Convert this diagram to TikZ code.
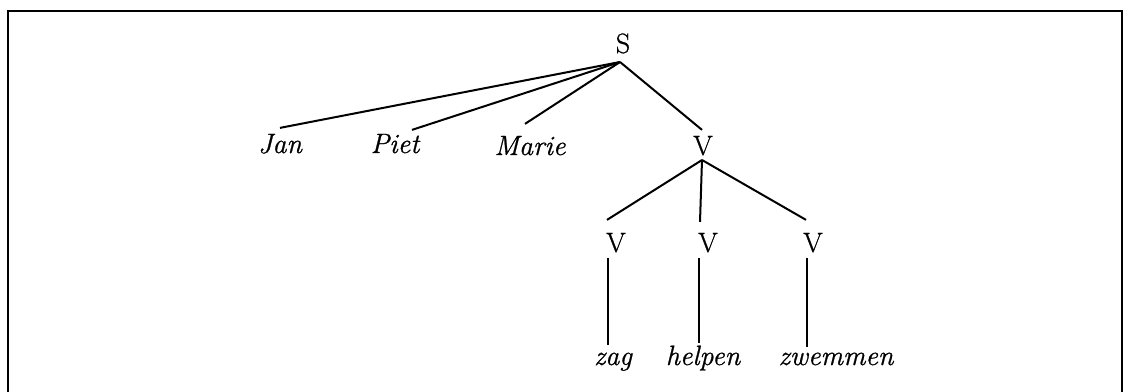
\documentclass[tikz,border=0pt]{standalone}
\usepackage{fontspec}
\newfontfamily\heavy{Latin Modern Roman}[FakeBold=0.8]
\begin{document}
\begin{tikzpicture}[x=1pt,y=-1pt,
  lbl/.style={inner sep=0pt,outer sep=0pt,anchor=base,font=\heavy\fontsize{28}{34}\selectfont},
  wrd/.style={lbl,font=\heavy\fontsize{28}{34}\selectfont\itshape},
  edge/.style={line width=2pt},
  frame/.style={line width=2.8pt}]
\useasboundingbox (0,0) rectangle (1126,391);
\draw[frame] (8,395) -- (8,11) -- (1122,11) -- (1122,395);
% nodes
\node[lbl] (S) at (623,53) {S};
\node[wrd] (Jan) at (280,153) {Jan};
\node[wrd] (Piet) at (395,153) {Piet};
\node[wrd] (Marie) at (530,155) {Marie};
\node[lbl] (V0) at (703,155) {V};
\node[lbl] (V1) at (616,252) {V};
\node[lbl] (V2) at (708,252) {V};
\node[lbl] (V3) at (813,252) {V};
\node[wrd] (zag) at (613,365) {zag};
\node[wrd] (helpen) at (703,365) {helpen};
\node[wrd] (zwemmen) at (836,365) {zwemmen};
% edges
\draw[edge] ([xshift=-3pt,yshift=-9pt]S.base) -- ([yshift=6pt]Jan.north);
\draw[edge] ([xshift=-3pt,yshift=-9pt]S.base) -- ([xshift=17pt,yshift=4pt]Piet.north);
\draw[edge] ([xshift=-3pt,yshift=-9pt]S.base) -- ([xshift=-5pt,yshift=12pt]Marie.north);
\draw[edge] ([xshift=-3pt,yshift=-9pt]S.base) -- ([xshift=-1pt,yshift=6pt]V0.north);
\draw[edge] ([xshift=-1pt,yshift=-5pt]V0.base) -- ([xshift=-9pt,yshift=13pt]V1.north);
\draw[edge] ([xshift=-1pt,yshift=-5pt]V0.base) -- ([xshift=-8pt,yshift=11pt]V2.north);
\draw[edge] ([xshift=-1pt,yshift=-5pt]V0.base) -- ([xshift=-7pt,yshift=13pt]V3.north);
\draw[edge] ([xshift=-8pt,yshift=-6pt]V1.base) -- ([xshift=-5pt,yshift=8pt]zag.north);
\draw[edge] ([xshift=-9pt,yshift=-6pt]V2.base) -- ([xshift=-4pt,yshift=3pt]helpen.north);
\draw[edge] ([xshift=-6pt,yshift=-6pt]V3.base) -- ([xshift=-29pt,yshift=6pt]zwemmen.north);
\end{tikzpicture}
\end{document}
